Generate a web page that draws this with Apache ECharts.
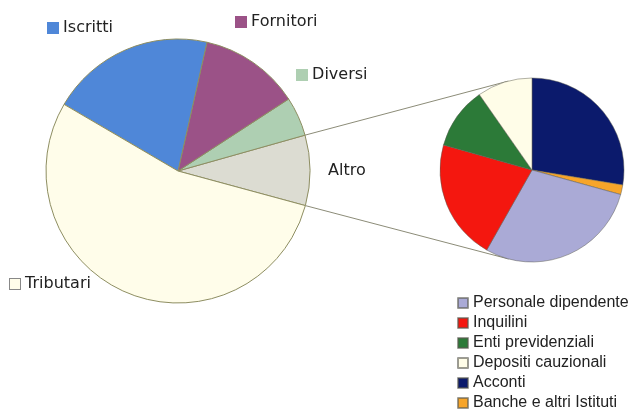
<!DOCTYPE html>
<html>
<head>
<meta charset="utf-8">
<script src="https://cdn.jsdelivr.net/npm/echarts@6/dist/echarts.min.js"></script>
<style>
html, body { margin: 0; padding: 0; background: #fff; }
#chart { width: 632px; height: 412px; }
</style>
</head>
<body>
<div id="chart"></div>
<script>
// torta principale (ordine antiorario a partire da Altro)
var mainNames = ['Altro', 'Diversi', 'Fornitori', 'Iscritti', 'Tributari'];
var mainValues = [8.6, 4.8, 12.3, 20.1, 54.2];
var mainColors = ['#dcdcd2', '#aecfb2', '#9b5287', '#4f87d8', '#fffdea'];

// dettaglio di "Altro" (ordine orario da ore 12)
var subNames = ['Acconti', 'Banche e altri Istituti', 'Personale dipendente', 'Inquilini', 'Enti previdenziali', 'Depositi cauzionali'];
var subValues = [27.6, 1.7, 28.9, 21.2, 10.9, 9.7];
var subColors = ['#0b1a6c', '#f7a52a', '#aaaad6', '#f4170f', '#2c7a38', '#fffde8'];
var legendOrder = ['Personale dipendente', 'Inquilini', 'Enti previdenziali', 'Depositi cauzionali', 'Acconti', 'Banche e altri Istituti'];

// posizione delle etichette della torta principale
var labelPos = [[328, 171], [297, 75], [236, 22], [48, 28], [10, 284]];

window.onload = function() {
    var chart = echarts.init(document.getElementById('chart'));

    var rich = { t: { fontSize: 16, color: '#222', fontFamily: 'DejaVu Sans' } };
    mainColors.forEach(function(c, i) {
        rich['s' + i] = {
            width: 10, height: 10, backgroundColor: c,
            borderColor: i === 4 ? '#888' : c, borderWidth: 1
        };
    });

    chart.setOption({
        backgroundColor: '#fff',
        animation: false,
        legend: {
            orient: 'vertical',
            left: 457,
            top: 295,
            padding: 0,
            itemWidth: 10,
            itemHeight: 10,
            itemGap: 4,
            icon: 'rect',
            data: legendOrder,
            textStyle: {
                fontFamily: 'Liberation Sans',
                fontSize: 16,
                color: '#222'
            }
        },
        series: [{
            type: 'pie',
            center: [178, 171],
            radius: 132,
            startAngle: -15.2,
            clockwise: false,
            avoidLabelOverlap: false,
            itemStyle: { borderColor: '#8e8e62', borderWidth: 1 },
            label: {
                show: true,
                position: 'outside',
                formatter: function(p) {
                    if (p.dataIndex === 0) return '{t|' + p.name + '}';
                    return '{s' + p.dataIndex + '|}{t| ' + p.name + '}';
                },
                rich: rich
            },
            labelLine: { show: false },
            labelLayout: function(p) {
                var pos = labelPos[p.dataIndex];
                return { x: pos[0], y: pos[1], align: 'left', verticalAlign: 'middle' };
            },
            data: mainNames.map(function(n, i) {
                return { name: n, value: mainValues[i], itemStyle: { color: mainColors[i] } };
            })
        }, {
            type: 'pie',
            center: [532, 170],
            radius: 92,
            startAngle: 90,
            clockwise: true,
            avoidLabelOverlap: false,
            itemStyle: { borderColor: 'rgba(90,90,80,0.6)', borderWidth: 0.8 },
            label: { show: false },
            labelLine: { show: false },
            data: subNames.map(function(n, i) {
                return { name: n, value: subValues[i], itemStyle: { color: subColors[i] } };
            })
        }]
    });

    // linee di collegamento: dai bordi della fetta Altro, tangenti alla seconda torta
    var l0 = chart.getModel().getSeriesByIndex(0).getData().getItemLayout(0);
    var l1 = chart.getModel().getSeriesByIndex(1).getData().getItemLayout(0);
    var ends = [l0.startAngle, l0.endAngle].map(function(a) {
        return [l0.cx + l0.r * Math.cos(a), l0.cy + l0.r * Math.sin(a)];
    }).sort(function(a, b) { return a[1] - b[1]; });

    function tangent(p, upper) {
        var dx = p[0] - l1.cx, dy = p[1] - l1.cy;
        var d = Math.sqrt(dx * dx + dy * dy);
        var base = Math.atan2(dy, dx), al = Math.acos(l1.r / d);
        var t = [base + al, base - al].map(function(a) {
            return [l1.cx + l1.r * Math.cos(a), l1.cy + l1.r * Math.sin(a)];
        }).sort(function(a, b) { return a[1] - b[1]; });
        return upper ? t[0] : t[1];
    }

    var lines = [ends[0], ends[1]].map(function(p, i) {
        var q = tangent(p, i === 0);
        return {
            type: 'line',
            silent: true,
            shape: { x1: p[0], y1: p[1], x2: q[0], y2: q[1] },
            style: { stroke: '#8c8c78', lineWidth: 1 }
        };
    });
    chart.setOption({ graphic: lines });
};
</script>
</body>
</html>
